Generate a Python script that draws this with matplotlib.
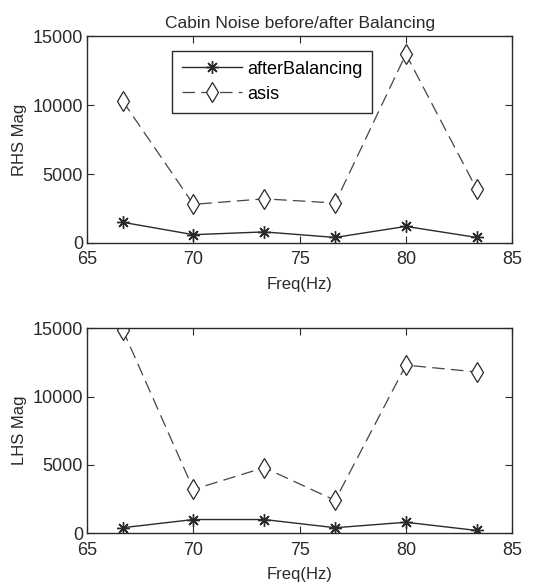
import matplotlib
matplotlib.use("Agg")
import matplotlib.pyplot as plt

plt.rcParams['font.family'] = ['Liberation Sans', 'DejaVu Sans']

freq = [66.67, 70.0, 73.33, 76.67, 80.0, 83.33]
rhs_after = [1500, 600, 800, 400, 1200, 400]
rhs_asis = [10300, 2800, 3200, 2900, 13700, 3900]
lhs_after = [400, 1000, 1000, 400, 800, 200]
lhs_asis = [14900, 3200, 4800, 2400, 12300, 11800]

ink = '#2a2a2a'
star = (8, 2, 0)   # asterisk marker, like matlab '*'

fig = plt.figure(figsize=(5.38, 5.84), dpi=100)
ax1 = fig.add_axes([0.162, 0.584, 0.790, 0.354])
ax2 = fig.add_axes([0.162, 0.087, 0.790, 0.351])


def style(ax, ylabel):
    ax.set_xlim(65, 85)
    ax.set_ylim(0, 15000)
    ax.set_xticks([65, 70, 75, 80, 85])
    ax.set_yticks([0, 5000, 10000, 15000])
    ax.tick_params(direction='in', top=True, right=True, labelsize=13,
                   length=5, colors=ink)
    ax.tick_params(axis='x', pad=6)
    ax.tick_params(axis='y', pad=3)
    for s in ax.spines.values():
        s.set_color(ink)
        s.set_linewidth(1.0)
    ax.set_xlabel('Freq(Hz)', fontsize=12, color=ink, labelpad=6)
    ax.set_ylabel(ylabel, fontsize=12, color=ink, labelpad=4)


ax1.plot(freq, rhs_after, color=ink, lw=1.0, marker=star, ms=9,
         mfc=ink, mec=ink, mew=1.0, label='afterBalancing')
ax1.plot(freq, rhs_asis, color='#444444', lw=0.9, dashes=(10, 5), marker='d', ms=10,
         mfc='white', mec=ink, mew=0.9, label='asis')
style(ax1, 'RHS Mag')
ax1.set_title('Cabin Noise before/after Balancing', fontsize=12.5, color=ink, pad=6)
leg = ax1.legend(loc='upper left', bbox_to_anchor=(0.2, 0.93), fontsize=13,
                 frameon=True, fancybox=False, edgecolor=ink, framealpha=1,
                 handlelength=3.3, borderpad=0.55, labelspacing=0.45, handletextpad=0.3,
                 borderaxespad=0)
leg.get_frame().set_linewidth(1.0)

ax2.plot(freq, lhs_after, color=ink, lw=1.0, marker=star, ms=9, mfc=ink, mec=ink, mew=1.0)
ax2.plot(freq, lhs_asis, color='#444444', lw=0.9, dashes=(10, 5), marker='d', ms=10,
         mfc='white', mec=ink, mew=0.9)
style(ax2, 'LHS Mag')

fig.savefig('out.png', dpi=100)
